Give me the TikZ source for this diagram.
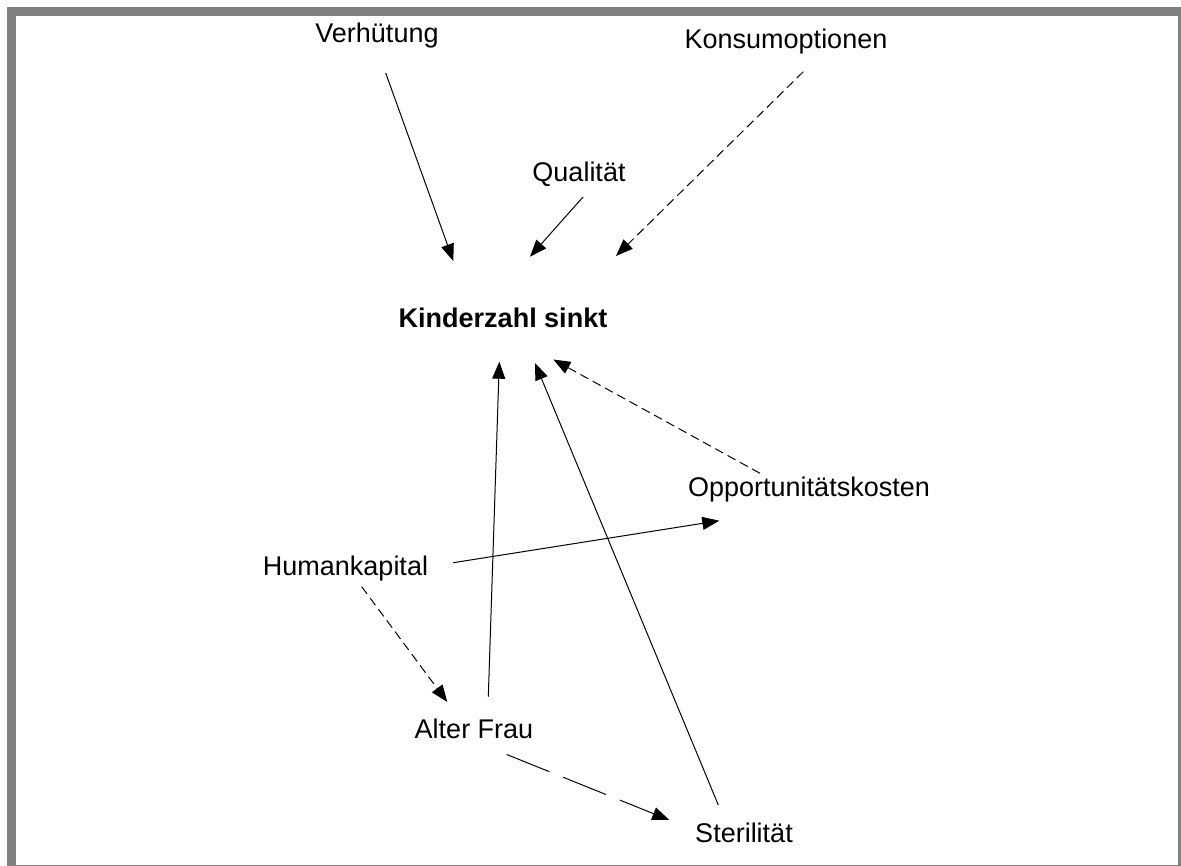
\documentclass[tikz,border=0pt]{standalone}
\usepackage{fontspec}
\setmainfont{Liberation Sans}
\usetikzlibrary{arrows.meta}

\tikzset{
	factor/.style={anchor=base,inner sep=0pt,font=\fontsize{27}{32}\selectfont},
	effect/.style={->,line width=1pt},
	weakeffect/.style={->,line width=1pt,dash pattern=on 9pt off 5pt},
	lateeffect/.style={->,line width=1pt,dash pattern=on 46pt off 15pt}
}

\begin{document}
\begin{tikzpicture}[x=1pt,y=-1pt,>={Triangle[length=17pt,width=13pt]}]
		
		\useasboundingbox (0,0) rectangle (1181,866);
		
		%----------------------------------------
		% Frame
		%----------------------------------------
		\fill[gray] (7,7) rectangle (16,866);
		\fill[gray] (7,7) rectangle (1181,16);
		\fill[gray] (1177.5,7) rectangle (1181,866);
		\fill[gray] (7,864.7) rectangle (1181,866);
		
		%----------------------------------------
		% Factors
		%----------------------------------------
		\node[factor] (verh) at (377,42.7) {Verhütung};
		\node[factor] (konsum) at (786,48.7) {Konsumoptionen};
		\node[factor] (qual) at (579,182) {Qualität};
		\node[factor,font=\fontsize{27}{32}\selectfont\bfseries] (kind) at (503,327.7) {Kinderzahl sinkt};
		\node[factor] (opp) at (809,496.7) {Opportunitätskosten};
		\node[factor] (human) at (345.5,575) {Humankapital};
		\node[factor] (alter) at (474,738.3) {Alter Frau};
		\node[factor] (steril) at (744,842.7) {Sterilität};
		
		%----------------------------------------
		% Connector ends
		%----------------------------------------
		\coordinate (verh-out) at (385.7,73);
		\coordinate (konsum-out) at (803.3,71.7);
		\coordinate (qual-out) at (583,197);
		\coordinate (kind-in1) at (453.3,261);
		\coordinate (kind-in2) at (530,256.7);
		\coordinate (kind-in3) at (616,256);
		\coordinate (kind-in4) at (499.3,361.7);
		\coordinate (kind-in5) at (535,363);
		\coordinate (kind-in6) at (553.3,359.5);
		\coordinate (opp-out) at (760,473.3);
		\coordinate (opp-in) at (719.3,520.7);
		\coordinate (human-out1) at (453.3,562.7);
		\coordinate (human-out2) at (361.7,586.7);
		\coordinate (alter-in) at (447.3,702);
		\coordinate (alter-out1) at (488.3,696.7);
		\coordinate (alter-out2) at (506.7,754.5);
		\coordinate (steril-in) at (669.3,820);
		\coordinate (steril-out) at (718.3,805);
		
		%----------------------------------------
		% Effects on the number of children
		%----------------------------------------
		\draw[effect] (verh-out) -- (kind-in1);
		\draw[effect] (qual-out) -- (kind-in2);
		\draw[weakeffect] (konsum-out) -- (kind-in3);
		\draw[effect] (alter-out1) -- (kind-in4);
		\draw[effect] (steril-out) -- (kind-in5);
		\draw[weakeffect] (opp-out) -- (kind-in6);
		
		%----------------------------------------
		% Chain from human capital
		%----------------------------------------
		\draw[effect] (human-out1) -- (opp-in);
		\draw[weakeffect] (human-out2) -- (alter-in);
		\draw[lateeffect] (alter-out2) -- (steril-in);
		
	\end{tikzpicture}
\end{document}
